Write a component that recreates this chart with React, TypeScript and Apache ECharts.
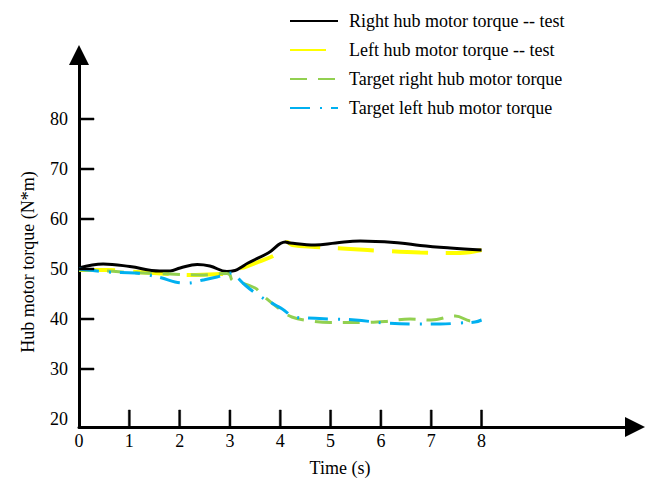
import React, { useEffect, useRef } from "react";
import * as echarts from "echarts";

const seriesNames = [
  "Right hub motor torque -- test",
  "Left hub motor torque -- test",
  "Target right hub motor torque",
  "Target left hub motor torque",
];

const rightTest: [number, number][] = [
  [0, 50.2], [0.48, 51.0], [1.01, 50.5], [1.6, 49.6], [1.81, 49.6], [2.01, 50.2],
  [2.35, 50.9], [2.6, 50.6], [2.94, 49.5], [3.1, 49.7], [3.2, 50.2], [3.36, 51.2],
  [3.76, 53.2], [4.1, 55.4], [4.19, 55.2], [4.69, 54.8], [5.1, 55.2], [5.59, 55.6],
  [6.38, 55.2], [6.78, 54.7], [7.38, 54.2], [8.0, 53.8],
];

const leftTest: [number, number][] = [
  [0, 49.8], [0.58, 49.8], [1.01, 49.5], [1.81, 49.0], [2.21, 48.8], [2.8, 49.0],
  [3.0, 49.2], [3.16, 50.0], [3.3, 50.4], [3.56, 51.4], [3.9, 52.8], [4.04, 53.8],
  [4.14, 55.4], [4.24, 54.8], [4.69, 54.4], [5.39, 54.0], [6.08, 53.6], [6.78, 53.3],
  [7.57, 53.2], [8.0, 53.8],
];

const targetRight: [number, number][] = [
  [0, 49.8], [0.58, 49.6], [1.01, 49.3], [1.81, 49.0], [2.41, 48.8], [2.94, 49.1],
  [3.0, 48.8], [3.04, 47.8], [3.12, 47.6], [3.5, 46.2], [3.64, 44.8], [3.96, 42.2],
  [4.23, 40.4], [4.63, 39.6], [4.99, 39.3], [5.59, 39.3], [6.08, 39.5], [6.58, 40.0],
  [7.0, 39.8], [7.48, 40.6], [7.8, 39.6], [8.0, 39.9],
];

const targetLeft: [number, number][] = [
  [0, 50.0], [0.18, 49.8], [0.58, 49.4], [1.11, 49.2], [1.37, 48.8], [1.65, 48.2],
  [1.91, 47.4], [2.15, 47.2], [2.47, 47.8], [2.74, 48.4], [2.94, 49.0], [3.04, 49.2],
  [3.1, 48.8], [3.3, 46.8], [3.56, 44.8], [3.9, 42.8], [4.04, 42.0], [4.29, 40.4],
  [4.55, 40.2], [4.99, 40.0], [5.49, 39.8], [6.08, 39.2], [6.64, 39.0], [7.18, 39.0],
  [7.57, 39.2], [7.87, 39.4], [8.0, 39.8],
];

// axis ranges, ticks and tick labels
const xMin = 0;
const xMax = 11.05;
const yMin = 18.4;
const yMax = 92.8;
const xTickLabels = [0, 1, 2, 3, 4, 5, 6, 7, 8];
const xTicks = [1, 2, 3, 4, 5, 6, 7, 8];
const yTickLabels = [20, 30, 40, 50, 60, 70, 80];
const yTicks = [30, 40, 50, 60, 70, 80];

const FONT = "'Liberation Serif', 'Times New Roman', serif";
const X_TICK_LEN = 17;
const Y_TICK_LEN = 15;

export default function App() {
  const ref = useRef<HTMLDivElement>(null);
  useEffect(() => {
    if (!ref.current) return;
    const chart = echarts.init(ref.current, undefined, { renderer: "svg" });
    const mk = (name: string, data: [number, number][], color: string, width: number, type: any) => ({
      name,
      type: "line",
      data,
      smooth: 0.4,
      showSymbol: false,
      symbol: "none",
      lineStyle: { color, width, type },
      itemStyle: { color },
    });
    const labelStyle = { fontFamily: FONT, fontSize: 18, color: "#000" };
    const arrowLine = {
      show: true,
      onZero: false,
      lineStyle: { color: "#000", width: 3 },
      symbol: ["none", "triangle"],
      symbolSize: [20, 20],
    };
    chart.setOption({
      animation: false,
      backgroundColor: "#fff",
      textStyle: { fontFamily: FONT },
      grid: { left: 79, right: 14, top: 55, bottom: 57 },
      legend: {
        orient: "vertical",
        left: 289,
        top: 11,
        padding: 0,
        itemWidth: 48,
        itemHeight: 14,
        itemGap: 9,
        itemStyle: { color: "rgba(0,0,0,0)", borderWidth: 0, opacity: 0 },
        textStyle: { ...labelStyle, lineHeight: 20, padding: [0, 0, 0, 6] },
        data: seriesNames,
      },
      xAxis: {
        type: "value",
        min: xMin,
        max: xMax,
        name: "Time (s)",
        nameLocation: "middle",
        nameGap: 32,
        nameTextStyle: { ...labelStyle, padding: [0, 34, 0, 0] },
        axisLine: arrowLine,
        axisTick: { show: false },
        axisLabel: { show: true, customValues: xTickLabels, margin: 5, ...labelStyle },
        splitLine: { show: false },
      },
      yAxis: {
        type: "value",
        min: yMin,
        max: yMax,
        name: "Hub motor torque (N*m)",
        nameLocation: "middle",
        nameRotate: 90,
        nameGap: 42,
        nameTextStyle: { ...labelStyle, padding: [0, 42, 0, 0] },
        axisLine: arrowLine,
        axisTick: { show: false },
        axisLabel: { show: true, customValues: yTickLabels, margin: 11, ...labelStyle },
        splitLine: { show: false },
      },
      series: [
        mk(seriesNames[1], leftTest, "#ffff00", 4, [36, 18]),
        mk(seriesNames[0], rightTest, "#000000", 3, "solid"),
        mk(seriesNames[2], targetRight, "#92d050", 3, [17, 11]),
        mk(seriesNames[3], targetLeft, "#00b0f0", 3, [20, 10, 2, 9]),
      ],
    });

    // Tick marks placed through the axes' own scales (convertToPixel)
    const finder = { xAxisIndex: 0, yAxisIndex: 0 };
    const tickElems: any[] = [];
    xTicks.forEach((t) => {
      const p = chart.convertToPixel(finder, [t, yMin]) as number[];
      if (!p) return;
      tickElems.push({
        type: "rect",
        silent: true,
        z: 100,
        shape: { x: p[0] - 1, y: p[1] - X_TICK_LEN, width: 2, height: X_TICK_LEN },
        style: { fill: "#000", stroke: "#000", lineWidth: 0.5 },
      });
    });
    yTicks.forEach((v) => {
      const p = chart.convertToPixel(finder, [xMin, v]) as number[];
      if (!p) return;
      tickElems.push({
        type: "rect",
        silent: true,
        z: 100,
        shape: { x: p[0], y: p[1] - 1, width: Y_TICK_LEN, height: 2 },
        style: { fill: "#000", stroke: "#000", lineWidth: 0.5 },
      });
    });
    chart.setOption({ graphic: { elements: tickElems } });

    return () => chart.dispose();
  }, []);
  return <div ref={ref} style={{ position: "fixed", left: 0, top: 0, width: 649, height: 484 }} />;
}
